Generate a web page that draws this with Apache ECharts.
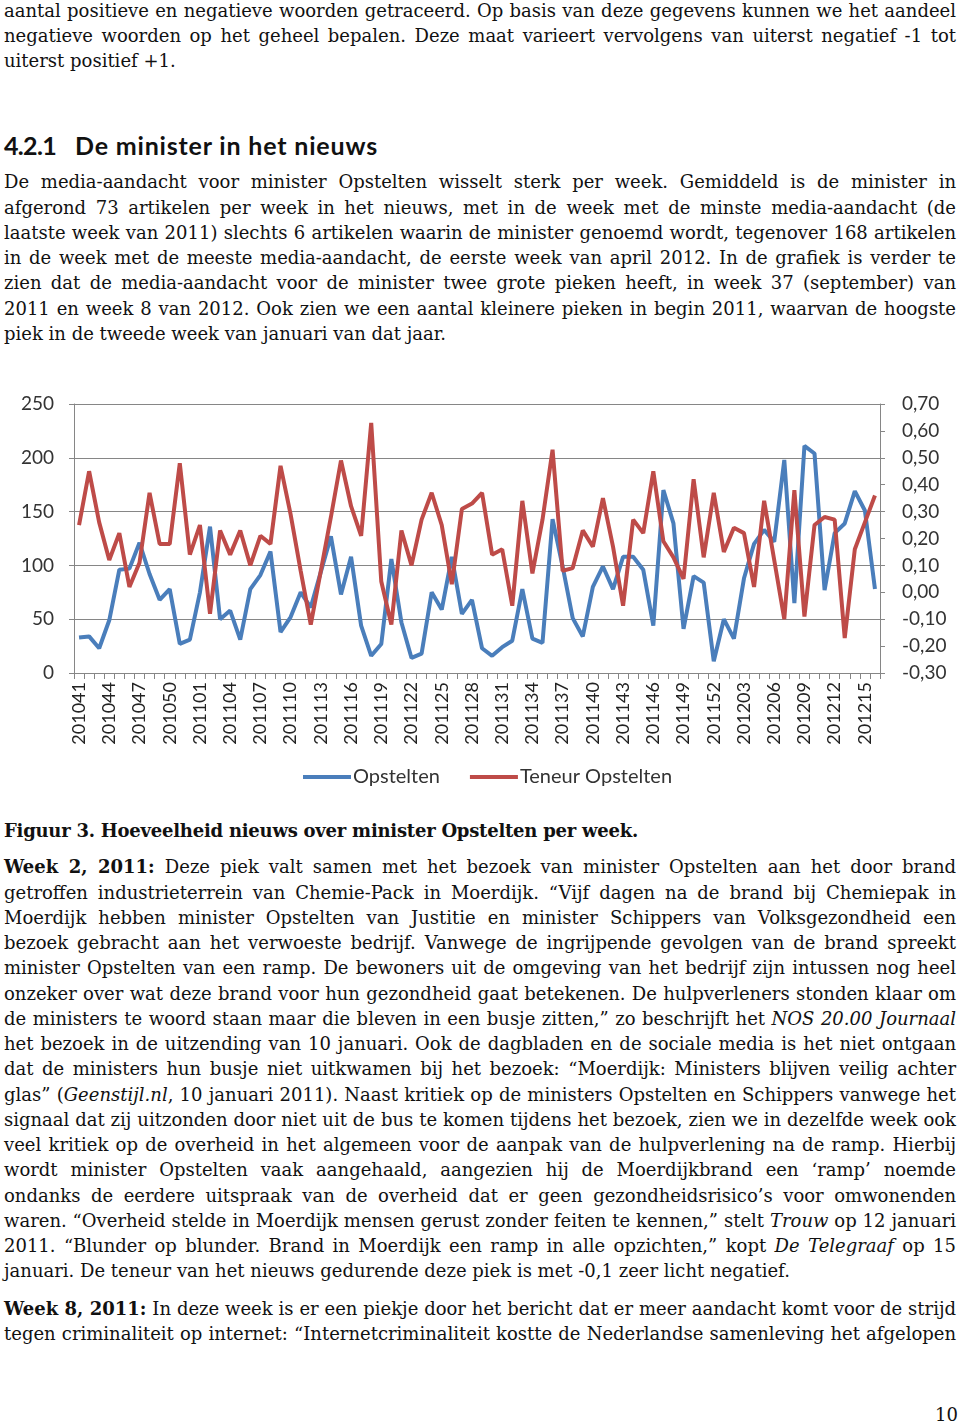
<!DOCTYPE html>
<html>
<head>
<meta charset="utf-8">
<script src="https://cdn.jsdelivr.net/npm/echarts@6/dist/echarts.min.js"></script>
<style>
  html, body { margin:0; padding:0; background:#fff; }
  body { width:960px; height:1423px; position:relative; overflow:hidden; }
  .l { position:absolute; left:4px; white-space:nowrap; font-family:'DejaVu Serif', serif; font-size:18px; line-height:25.25px; color:#111; }
  .h { position:absolute; white-space:nowrap; font-family:'Lato', sans-serif; font-weight:bold; font-size:25px; line-height:30px; color:#111; }
  #chart { position:absolute; left:0; top:390px; width:960px; height:410px; }
</style>
</head>
<body>
<div id="text"></div>
<div class="h" id="h1" style="left:4px;top:130px" data-w="52">4.2.1</div>
<div class="h" id="h2" style="left:75px;top:130px" data-w="303">De minister in het nieuws</div>
<div id="chart"></div>
<script>
// ---------- data ----------
const weeks = [
  '201041','201042','201043','201044','201045','201046','201047','201048','201049','201050','201051','201052',
  '201101','201102','201103','201104','201105','201106','201107','201108','201109','201110','201111','201112',
  '201113','201114','201115','201116','201117','201118','201119','201120','201121','201122','201123','201124',
  '201125','201126','201127','201128','201129','201130','201131','201132','201133','201134','201135','201136',
  '201137','201138','201139','201140','201141','201142','201143','201144','201145','201146','201147','201148',
  '201149','201150','201151','201152','201201','201202','201203','201204','201205','201206','201207','201208',
  '201209','201210','201211','201212','201213','201214','201215','201216'
];
const opstelten = [
  33, 34, 23, 49, 96, 97, 121, 92, 68, 78, 27, 31,
  75, 136, 50, 58, 31, 78, 91, 113, 38, 52, 75, 61,
  94, 127, 73, 108, 44, 16, 27, 106, 47, 14, 18, 75,
  59, 108, 55, 68, 23, 16, 24, 30, 78, 32, 28, 143,
  99, 51, 34, 80, 99, 78, 108, 108, 96, 44, 170, 139,
  41, 90, 84, 11, 50, 32, 88, 120, 133, 122, 198, 65,
  211, 204, 77, 130, 139, 169, 151, 78
];
const teneur = [
  0.25, 0.45, 0.26, 0.12, 0.22, 0.02, 0.11, 0.37, 0.18, 0.18, 0.48, 0.14,
  0.25, -0.08, 0.23, 0.14, 0.23, 0.10, 0.21, 0.18, 0.47, 0.29, 0.08, -0.12,
  0.08, 0.28, 0.49, 0.32, 0.21, 0.63, 0.04, -0.12, 0.23, 0.10, 0.27, 0.37,
  0.25, 0.03, 0.31, 0.33, 0.37, 0.14, 0.16, -0.05, 0.34, 0.07, 0.27, 0.53,
  0.08, 0.09, 0.23, 0.17, 0.35, 0.17, -0.05, 0.27, 0.22, 0.45, 0.19, 0.13,
  0.05, 0.42, 0.13, 0.37, 0.15, 0.24, 0.22, 0.02, 0.34, 0.12, -0.10, 0.38,
  -0.09, 0.25, 0.28, 0.27, -0.17, 0.16, 0.26, 0.36
];
const seriesNames = ['Opstelten', 'Teneur Opstelten'];

// ---------- text ----------
const para1 = [
  'aantal positieve en negatieve woorden getraceerd. Op basis van deze gegevens kunnen we het aandeel',
  'negatieve woorden op het geheel bepalen. Deze maat varieert vervolgens van uiterst negatief -1 tot',
  'uiterst positief +1.'
];
const para2 = [
  'De media-aandacht voor minister Opstelten wisselt sterk per week. Gemiddeld is de minister in',
  'afgerond 73 artikelen per week in het nieuws, met in de week met de minste media-aandacht (de',
  'laatste week van 2011) slechts 6 artikelen waarin de minister genoemd wordt, tegenover 168 artikelen',
  'in de week met de meeste media-aandacht, de eerste week van april 2012. In de grafiek is verder te',
  'zien dat de media-aandacht voor de minister twee grote pieken heeft, in week 37 (september) van',
  '2011 en week 8 van 2012. Ook zien we een aantal kleinere pieken in begin 2011, waarvan de hoogste',
  'piek in de tweede week van januari van dat jaar.'
];
const caption = 'Figuur 3. Hoeveelheid nieuws over minister Opstelten per week.';
const para3 = [
  '<b>Week 2, 2011:</b> Deze piek valt samen met het bezoek van minister Opstelten aan het door brand',
  'getroffen industrieterrein van Chemie-Pack in Moerdijk. “Vijf dagen na de brand bij Chemiepak in',
  'Moerdijk hebben minister Opstelten van Justitie en minister Schippers van Volksgezondheid een',
  'bezoek gebracht aan het verwoeste bedrijf. Vanwege de ingrijpende gevolgen van de brand spreekt',
  'minister Opstelten van een ramp. De bewoners uit de omgeving van het bedrijf zijn intussen nog heel',
  'onzeker over wat deze brand voor hun gezondheid gaat betekenen. De hulpverleners stonden klaar om',
  'de ministers te woord staan maar die bleven in een busje zitten,” zo beschrijft het <i>NOS 20.00 Journaal</i>',
  'het bezoek in de uitzending van 10 januari. Ook de dagbladen en de sociale media is het niet ontgaan',
  'dat de ministers hun busje niet uitkwamen bij het bezoek: “Moerdijk: Ministers blijven veilig achter',
  'glas” (<i>Geenstijl.nl</i>, 10 januari 2011). Naast kritiek op de ministers Opstelten en Schippers vanwege het',
  'signaal dat zij uitzonden door niet uit de bus te komen tijdens het bezoek, zien we in dezelfde week ook',
  'veel kritiek op de overheid in het algemeen voor de aanpak van de hulpverlening na de ramp. Hierbij',
  'wordt minister Opstelten vaak aangehaald, aangezien hij de Moerdijkbrand een ‘ramp’ noemde',
  'ondanks de eerdere uitspraak van de overheid dat er geen gezondheidsrisico’s voor omwonenden',
  'waren. “Overheid stelde in Moerdijk mensen gerust zonder feiten te kennen,” stelt <i>Trouw</i> op 12 januari',
  '2011. “Blunder op blunder. Brand in Moerdijk een ramp in alle opzichten,” kopt <i>De Telegraaf</i> op 15',
  'januari. De teneur van het nieuws gedurende deze piek is met -0,1 zeer licht negatief.'
];
const para4 = [
  '<b>Week 8, 2011:</b> In deze week is er een piekje door het bericht dat er meer aandacht komt voor de strijd',
  'tegen criminaliteit op internet: “Internetcriminaliteit kostte de Nederlandse samenleving het afgelopen'
];

const LH = 25.25, BASE = 18.9, FULLW = 952;
const host = document.getElementById('text');
function addPara(lines, firstBaseline, lastIsFull) {
  lines.forEach((t, i) => {
    const d = document.createElement('div');
    d.className = 'l';
    d.style.top = (firstBaseline + i * LH - BASE) + 'px';
    d.innerHTML = '<span>' + t + '</span>';
    host.appendChild(d);
    const full = (i < lines.length - 1) || lastIsFull;
    if (full) {
      const sp = d.firstChild;
      const w = sp.getBoundingClientRect().width;
      const n = (sp.textContent.match(/ /g) || []).length;
      if (n > 0) sp.style.wordSpacing = ((FULLW - w) / n) + 'px';
    }
  });
}
addPara(para1, 16.7, false);
addPara(para2, 188.3, false);
addPara(para3, 873.3, false);
addPara(para4, 1314.7, true);

// caption + page number
(function(){
  const d = document.createElement('div');
  d.className = 'l';
  d.style.top = (836.7 - BASE) + 'px';
  d.innerHTML = '<span style="font-weight:bold">' + caption + '</span>';
  host.appendChild(d);
  const sp = d.firstChild;
  const w = sp.getBoundingClientRect().width;
  const n = sp.textContent.length;
  sp.style.letterSpacing = ((634 - w) / n) + 'px';
  const p = document.createElement('div');
  p.className = 'l';
  p.style.left = '935px';
  p.style.top = (1421 - BASE) + 'px';
  p.textContent = '10';
  host.appendChild(p);
})();
// heading fit
['h1','h2'].forEach(id => {
  const el = document.getElementById(id);
  const target = +el.dataset.w;
  const w = el.getBoundingClientRect().width;
  el.style.letterSpacing = ((target - w) / el.textContent.length) + 'px';
});

// ---------- chart ----------
const chart = echarts.init(document.getElementById('chart'));
const axisGray = '#868686';
chart.setOption({
  animation: false,
  textStyle: { fontFamily: 'Lato' },
  grid: { left: 74, right: 80, top: 14, height: 269 },
  legend: {
    data: seriesNames,
    left: 298, top: 372,
    icon: 'rect', itemWidth: 48, itemHeight: 4, itemGap: 30,
    textStyle: { fontSize: 20, color: '#333', fontFamily: 'Lato', padding: [0, 0, 0, -3] }
  },
  xAxis: {
    type: 'category', data: weeks, boundaryGap: true,
    axisLine: { lineStyle: { color: axisGray } },
    axisTick: { show: true, interval: 0, length: 6, lineStyle: { color: axisGray } },
    axisLabel: { interval: 2, rotate: 90, fontSize: 18, color: '#222', margin: 9, fontFamily: 'Lato' }
  },
  yAxis: [
    {
      type: 'value', min: 0, max: 250, interval: 50, position: 'left',
      axisLine: { show: true, lineStyle: { color: axisGray } },
      axisTick: { show: true, length: 5, lineStyle: { color: axisGray } },
      splitLine: { show: true, lineStyle: { color: axisGray, width: 1 } },
      axisLabel: { fontSize: 19, color: '#333', margin: 20, fontFamily: 'Lato' }
    },
    {
      type: 'value', min: -0.3, max: 0.7, interval: 0.1, position: 'right',
      axisLine: { show: true, lineStyle: { color: axisGray } },
      axisTick: { show: true, length: 5, lineStyle: { color: axisGray } },
      splitLine: { show: false },
      axisLabel: {
        fontSize: 19, color: '#333', margin: 22, fontFamily: 'Lato',
        formatter: v => (Math.round(v * 100) / 100 + 0).toFixed(2).replace('.', ',')
      }
    }
  ],
  series: [
    { name: seriesNames[0], type: 'line', data: opstelten, yAxisIndex: 0, symbol: 'none',
      lineStyle: { width: 4, color: '#4A7EBB' }, itemStyle: { color: '#4A7EBB' } },
    { name: seriesNames[1], type: 'line', data: teneur, yAxisIndex: 1, symbol: 'none',
      lineStyle: { width: 4, color: '#BE4B48' }, itemStyle: { color: '#BE4B48' } }
  ]
});
</script>
</body>
</html>
